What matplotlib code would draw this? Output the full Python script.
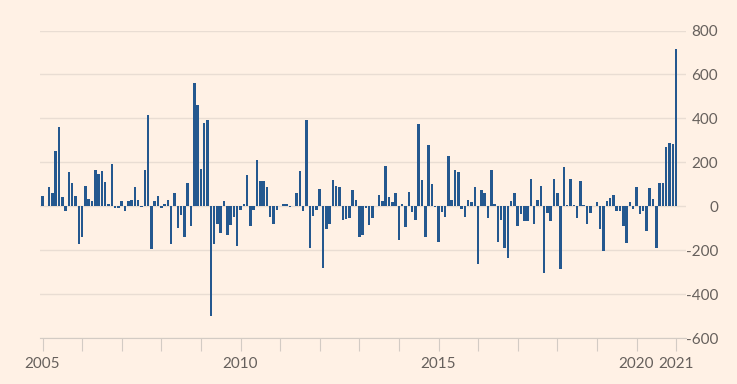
import matplotlib
matplotlib.use('Agg')
import matplotlib.pyplot as plt
import numpy as np

# monthly values, Jan 2005 .. Jan 2021
values_2005_2007 = [48, 3, 86, 59, 253, 359, 41, -23, 155, 106, 45, -170,
                    -141, 92, 35, 23, 164, 148, 159, 111, 8, 194, -8, -8,
                    23, -20, 23, 27, 86, 29, -5, 164, 417, -194, 26, 48]
values_2008_2010 = [-8, 8, 30, -170, 61, -98, -38, -139, 106, -88, 560, 462,
                    170, 379, 394, -500, -174, -79, -121, 23, -133, -86, -48, -182,
                    -15, 8, 141, -91, -15, 209, 114, 114, 88, -48, -83, -15]
values_2011_2013 = [0, 11, 11, -3, 0, 58, 159, -20, 394, -189, -45, -15,
                    79, -280, -103, -79, 118, 91, 88, -61, -58, -53, 76, 30,
                    -141, -129, -8, -86, -53, 3, 53, 26, 182, 41, 18, 59]
values_2014_2016 = [-156, 11, -95, 65, -27, -64, 376, 121, -141, 277, 103, -3,
                    -162, -27, -48, 227, 30, 164, 155, -11, -48, 30, 18, 86,
                    -265, 76, 58, -53, 167, 11, -164, -61, -189, -238, 23, 61]
values_2017_2021 = [-91, -35, -68, -68, 124, -83, 30, 91, -303, -30, -68, 124,
                    62, -286, 179, 5, 123, 5, -52, 115, 5, -82, -33, 0,
                    21, -105, -203, 24, 39, 52, -21, -24, -89, -168, 21, -14,
                    89, -36, -24, -112, 82, 32, -192, 105, 105, 270, 289, 282,
                    714]

values = (values_2005_2007 + values_2008_2010 + values_2011_2013
          + values_2014_2016 + values_2017_2021)
years = list(range(2005, 2022))
year_labels = ['2005', '', '', '', '', '2010', '', '', '', '', '2015',
               '', '', '', '', '2020', '2021']
y_ticks = [-600, -400, -200, 0, 200, 400, 600, 800]

bg = '#FFF1E5'
bar_color = '#24588f'
text_color = '#66605C'

plt.rcParams['font.family'] = ['Lato', 'DejaVu Sans']

fig = plt.figure(figsize=(7.37, 3.84), dpi=100, facecolor=bg)
ax = fig.add_axes([40 / 737, 1 - 338 / 384, (686 - 40) / 737, (338 - 30.5) / 384])
ax.set_facecolor(bg)

months = np.arange(len(values))
ax.bar(months, values, width=0.78, color=bar_color, zorder=3)

ax.set_xlim(-0.76, 195)
ax.set_ylim(-600, 800)

ax.set_yticks(y_ticks)
ax.set_yticklabels([str(v) for v in y_ticks])
ax.yaxis.tick_right()
ax.tick_params(axis='y', length=0, pad=23, labelsize=11, labelcolor=text_color)
for lbl in ax.get_yticklabels():
    lbl.set_horizontalalignment('right')
ax.grid(axis='y', color='#E9DDD3', linewidth=1, zorder=0)

ax.set_xticks([12 * (y - 2005) for y in years])
ax.set_xticklabels(year_labels)
ax.tick_params(axis='x', length=9, width=0.8, color='#D3CBC4', pad=5,
               labelsize=11, labelcolor=text_color)

for side in ['top', 'right', 'left']:
    ax.spines[side].set_visible(False)
ax.spines['bottom'].set_color('#D3CBC4')
ax.spines['bottom'].set_linewidth(0.8)

plt.savefig('out.png', dpi=100, facecolor=bg)
